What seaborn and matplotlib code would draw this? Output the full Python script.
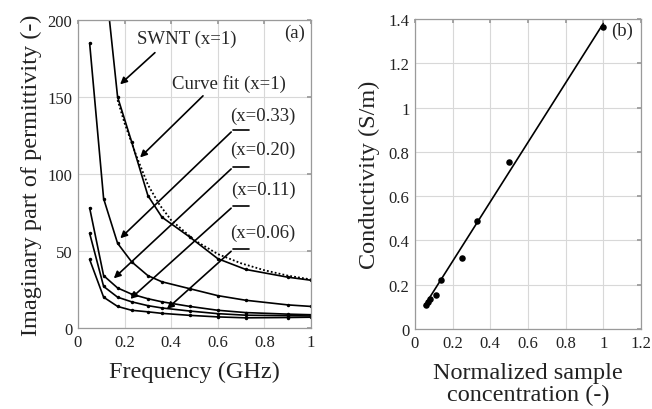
import matplotlib
matplotlib.use("Agg")
import matplotlib.pyplot as plt
import seaborn as sns
import pandas as pd

# ---- panel (a) data ----
freq = [0.05, 0.11, 0.17, 0.23, 0.30, 0.36, 0.48, 0.60, 0.72, 0.90, 1.00]
swnt_freq = [0.11, 0.17, 0.23, 0.30, 0.36, 0.48, 0.60, 0.72, 0.90, 1.00]
swnt_eps = [236, 150, 121, 86, 72, 59, 45, 38, 33, 31]
fit_freq = [0.17, 0.20, 0.25, 0.30, 0.35, 0.40, 0.50, 0.60, 0.70, 0.80, 0.90, 1.00]
fit_eps = [148, 133, 112, 93, 80, 70, 57, 48, 42, 37.5, 34, 31.5]
eps_033 = [185, 84, 55, 43, 34, 30, 25.5, 21, 18, 15, 14]
eps_020 = [78, 34, 26, 22, 19, 17, 14, 11.5, 10, 9, 8.6]
eps_011 = [61.5, 27, 20, 17, 14.5, 13, 11, 9.3, 8.3, 8.0, 7.8]
eps_006 = [44.5, 20, 14, 11.5, 10.5, 9.5, 8.2, 7.2, 6.6, 6.8, 7.0]

# ---- panel (b) data ----
conc = [0.06, 0.07, 0.08, 0.11, 0.14, 0.25, 0.33, 0.50, 1.00]
sigma = [0.108, 0.12, 0.136, 0.155, 0.221, 0.319, 0.489, 0.753, 1.366]
line_conc = [0.05, 1.00]
line_sigma = [0.105, 1.38]

sns.set_theme(style="whitegrid")
plt.rcParams['font.family'] = ['Liberation Serif', 'DejaVu Serif']
plt.rcParams['mathtext.fontset'] = 'stix'

fig = plt.figure(figsize=(6.52, 4.10), dpi=100)
ax1 = fig.add_axes([0.1196, 0.1976, 0.3574, 0.7512])
ax2 = fig.add_axes([0.6365, 0.195, 0.3465, 0.756])

for ax in (ax1, ax2):
    ax.set_facecolor('white')
    ax.grid(True, color='#d8d8d8', linewidth=0.8)
    for s in ax.spines.values():
        s.set_color('#9a9a9a')
        s.set_linewidth(0.9)
    ax.tick_params(direction='in', length=3, color='#9a9a9a', labelsize=12,
                   top=True, right=True, pad=4, labelcolor='#222222')

# panel (a)
curves = [("x=0.33", freq, eps_033), ("x=0.20", freq, eps_020),
          ("x=0.11", freq, eps_011), ("x=0.06", freq, eps_006),
          ("SWNT", swnt_freq, swnt_eps)]
for name, f, e in curves:
    df = pd.DataFrame({"f": f, "e": e})
    sns.lineplot(data=df, x="f", y="e", ax=ax1, color='black', linewidth=1.2,
                 marker='o', markersize=2.5, markeredgewidth=0, sort=False)
dff = pd.DataFrame({"f": fit_freq, "e": fit_eps})
sns.lineplot(data=dff, x="f", y="e", ax=ax1, color='black', linewidth=1.3,
             linestyle=(0, (1, 1.2)))

ax1.set_xlim(0, 1)
ax1.set_ylim(0, 200)
ax1.set_xticks([0, 0.2, 0.4, 0.6, 0.8, 1])
ax1.set_xticklabels(['0', '0.2', '0.4', '0.6', '0.8', '1'])
ax1.set_yticks([0, 50, 100, 150, 200])
ax1.set_xlabel("Frequency (GHz)", fontsize=17.5, labelpad=8, color='#222222')
ax1.set_ylabel("Imaginary part of permittivity (-)", fontsize=17.5, labelpad=4,
               color='#222222')

afs = 13.5
arrowkw = dict(arrowstyle='-|>', color='black', lw=1.2, mutation_scale=10)
ax1.text(0.253, 188, "SWNT (x=1)", fontsize=afs, ha='left', va='center')
ax1.annotate("", xy=(0.172, 157), xytext=(0.339, 180), arrowprops=arrowkw)
ax1.text(0.403, 159, "Curve fit (x=1)", fontsize=afs, ha='left', va='center')
ax1.annotate("", xy=(0.258, 109.5), xytext=(0.545, 152), arrowprops=arrowkw)
ax1.text(0.975, 192, "(a)", fontsize=afs, ha='right', va='center')

labels = [("(x=0.33)", 138, 128.5, (0.173, 57)),
          ("(x=0.20)", 116, 104.5, (0.145, 31)),
          ("(x=0.11)", 90, 79, (0.216, 17.7)),
          ("(x=0.06)", 62, 51, (0.373, 11.2))]
for txt, ty, ly, head in labels:
    ax1.text(0.935, ty, txt, fontsize=afs, ha='right', va='center')
    ax1.plot([0.734, 0.666], [ly, ly], color='black', lw=1.2)
    ax1.annotate("", xy=head, xytext=(0.666, ly), arrowprops=arrowkw)

# panel (b)
dfb = pd.DataFrame({"c": conc, "s": sigma})
sns.scatterplot(data=dfb, x="c", y="s", ax=ax2, color='black', s=22,
                edgecolor='black', linewidth=0)
dfl = pd.DataFrame({"c": line_conc, "s": line_sigma})
sns.lineplot(data=dfl, x="c", y="s", ax=ax2, color='black', linewidth=1.2)
ax2.set_xlim(0, 1.2)
ax2.set_ylim(0, 1.4)
ax2.set_xticks([0, 0.2, 0.4, 0.6, 0.8, 1, 1.2])
ax2.set_xticklabels(['0', '0.2', '0.4', '0.6', '0.8', '1', '1.2'])
ax2.set_yticks([0, 0.2, 0.4, 0.6, 0.8, 1, 1.2, 1.4])
ax2.set_yticklabels(['0', '0.2', '0.4', '0.6', '0.8', '1', '1.2', '1.4'])
ax2.set_xlabel("Normalized sample\nconcentration (-)", fontsize=17.5,
               labelpad=8, linespacing=1.1, color='#222222')
ax2.set_ylabel("Conductivity (S/m)", fontsize=17.5, labelpad=6, color='#222222')
ax2.text(1.1, 1.35, "(b)", fontsize=afs, ha='center', va='center')

fig.savefig("out.png", dpi=100, facecolor='white')
